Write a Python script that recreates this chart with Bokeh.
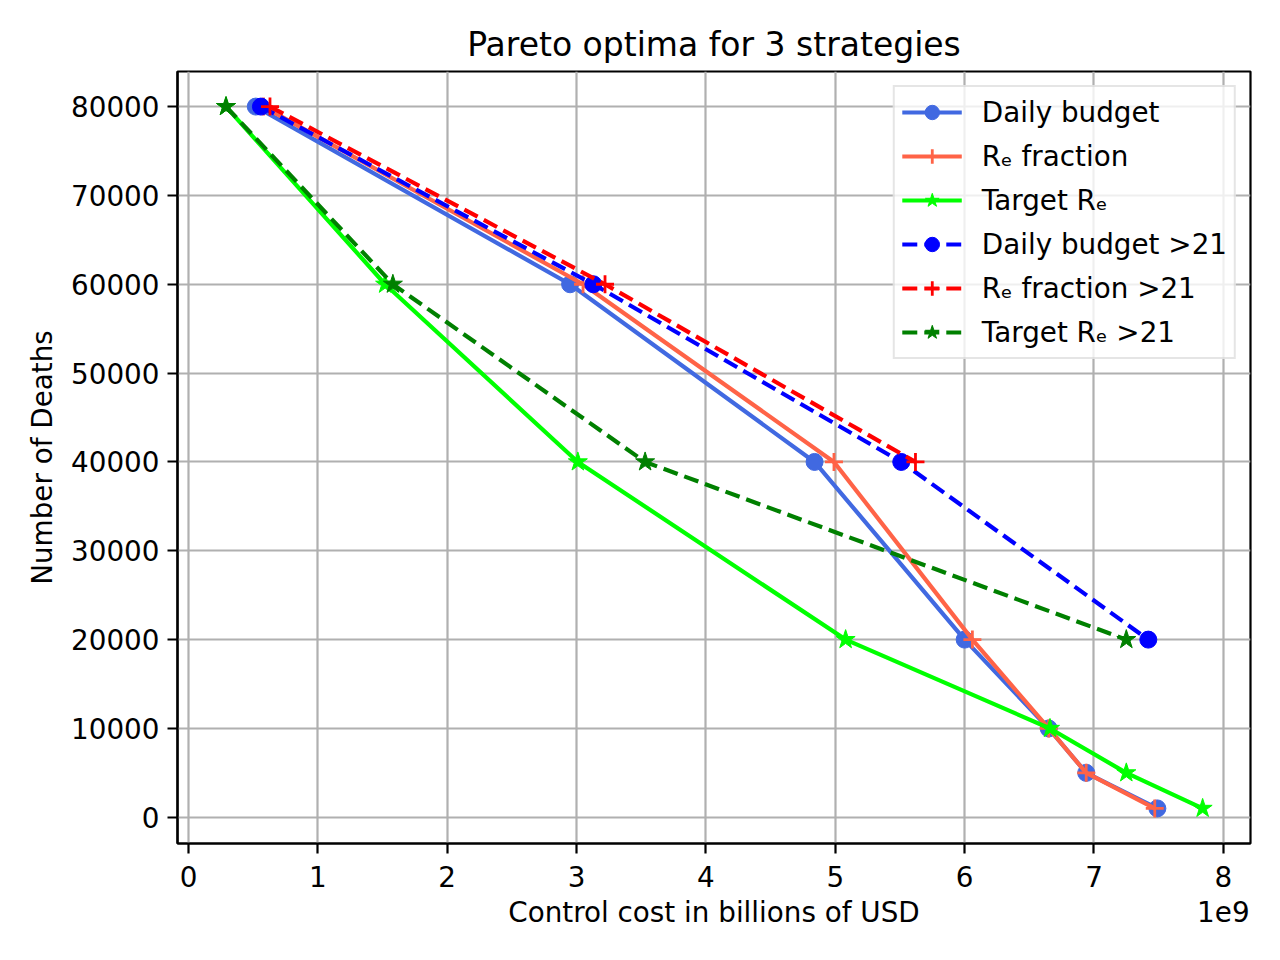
from bokeh.plotting import figure
from bokeh.models import (FixedTicker, CustomJSTickFormatter, Legend, LegendItem,
                          Range1d, BasicTickFormatter, LinearAxis, AllLabels)
from bokeh.embed import file_html
from bokeh.resources import INLINE

# ---- data (x in USD, y = number of deaths) ----
deaths = [80000, 60000, 40000, 20000, 10000, 5000, 1000]
daily_budget_cost = [0.52e9, 2.95e9, 4.84e9, 6.00e9, 6.65e9, 6.94e9, 7.49e9]
re_fraction_cost = [0.58e9, 3.05e9, 4.99e9, 6.06e9, 6.65e9, 6.94e9, 7.47e9]
target_re_cost = [0.29e9, 1.52e9, 3.01e9, 5.08e9, 6.66e9, 7.25e9, 7.84e9]

deaths_db21 = [80000, 60000, 40000, 20000]
daily_budget21_cost = [0.56e9, 3.13e9, 5.51e9, 7.42e9]
deaths_re21 = [80000, 60000, 40000]
re_fraction21_cost = [0.63e9, 3.22e9, 5.62e9]
deaths_tr21 = [80000, 60000, 40000, 20000]
target_re21_cost = [0.29e9, 1.58e9, 3.53e9, 7.25e9]

x_ticks = [0, 1e9, 2e9, 3e9, 4e9, 5e9, 6e9, 7e9, 8e9]
y_ticks = [0, 10000, 20000, 30000, 40000, 50000, 60000, 70000, 80000]
x_label = "Control cost in billions of USD"
x_offset_text = "1e9"

FONT = "DejaVu Sans"
FS = "27.8px"

X0, X1 = -0.085e9, 8.21e9
p = figure(width=1264, height=944, output_backend="svg", toolbar_location=None,
           x_range=Range1d(X0, X1), y_range=Range1d(-2950, 83950),
           min_border_left=177, min_border_right=14, min_border_top=71,
           min_border_bottom=101)

p.title.text = "Pareto optima for 3 strategies"
p.title.align = "center"
p.title.text_font = FONT
p.title.text_font_size = "33px"
p.title.text_font_style = "normal"
p.title.text_color = "black"
p.title.standoff = 15

p.outline_line_color = "black"
p.outline_line_width = 2.2

for ax in (p.xaxis[0], p.yaxis[0]):
    ax.axis_line_width = 2.2
    ax.axis_line_color = "black"
    ax.major_tick_line_width = 2.2
    ax.major_tick_out = 10
    ax.major_tick_in = 0
    ax.minor_tick_line_color = None
    ax.major_label_text_font = FONT
    ax.major_label_text_font_size = FS
    ax.major_label_text_color = "black"
    ax.axis_label_text_font = FONT
    ax.axis_label_text_font_size = FS
    ax.axis_label_text_font_style = "normal"
    ax.axis_label_text_color = "black"

p.xaxis.ticker = FixedTicker(ticks=x_ticks)
p.xaxis.formatter = CustomJSTickFormatter(code="return (tick/1e9).toFixed(0);")
p.yaxis.ticker = FixedTicker(ticks=y_ticks)
p.yaxis.formatter = BasicTickFormatter(use_scientific=False)
p.yaxis.axis_label = "Number of Deaths"
p.xaxis.major_label_standoff = 12
p.yaxis.major_label_standoff = 8
p.yaxis.axis_label_standoff = 9

# second (label-only) axis carrying the x axis title and the offset text on one row
label_axis = LinearAxis(
    ticker=FixedTicker(ticks=[(X0 + X1) / 2, 8.0e9]),
    formatter=CustomJSTickFormatter(
        args=dict(lab=x_label, off=x_offset_text),
        code="return tick > 6e9 ? off : lab;"),
    major_label_policy=AllLabels(),
    axis_line_color=None, major_tick_line_color=None, minor_tick_line_color=None,
    major_tick_out=0, major_tick_in=0, major_label_standoff=6,
    major_label_text_font=FONT, major_label_text_font_size=FS,
    major_label_text_color="black")
p.add_layout(label_axis, "below")

for g in (p.xgrid[0], p.ygrid[0]):
    g.grid_line_color = "#b0b0b0"
    g.grid_line_width = 2.2

LW = 4.2
DASH = "15 7"
series = [
    ("Daily budget", daily_budget_cost, deaths, "royalblue", "solid", "circle"),
    ("R\u2091 fraction", re_fraction_cost, deaths, "tomato", "solid", "cross"),
    ("Target R\u2091", target_re_cost, deaths, "lime", "solid", "star"),
    ("Daily budget >21", daily_budget21_cost, deaths_db21, "blue", DASH, "circle"),
    ("R\u2091 fraction >21", re_fraction21_cost, deaths_re21, "red", DASH, "cross"),
    ("Target R\u2091 >21", target_re21_cost, deaths_tr21, "green", DASH, "star"),
]

items = []
for name, xs, ys, col, dash, mk in series:
    l = p.line(xs, ys, line_color=col, line_width=LW, line_dash=dash)
    if mk == "circle":
        s = p.scatter(xs, ys, marker="circle", size=17, fill_color=col, line_color=col)
    elif mk == "cross":
        s = p.scatter(xs, ys, marker="cross", size=18, line_color=col, line_width=2.8)
    else:
        s = p.scatter(xs, ys, marker="star", size=20, fill_color=col, line_color=col)
    items.append(LegendItem(label=name, renderers=[l, s]))

legend = Legend(items=items, location="top_right")
legend.label_text_font = FONT
legend.label_text_font_size = FS
legend.label_text_color = "black"
legend.glyph_width = 60
legend.glyph_height = 36
legend.label_height = 36
legend.spacing = 8
legend.padding = 7
legend.margin = 14
legend.label_standoff = 20
legend.border_line_color = "#cccccc"
legend.border_line_width = 2.2
legend.background_fill_alpha = 0.8
p.add_layout(legend)

open("out.html", "w").write(file_html(p, INLINE))
